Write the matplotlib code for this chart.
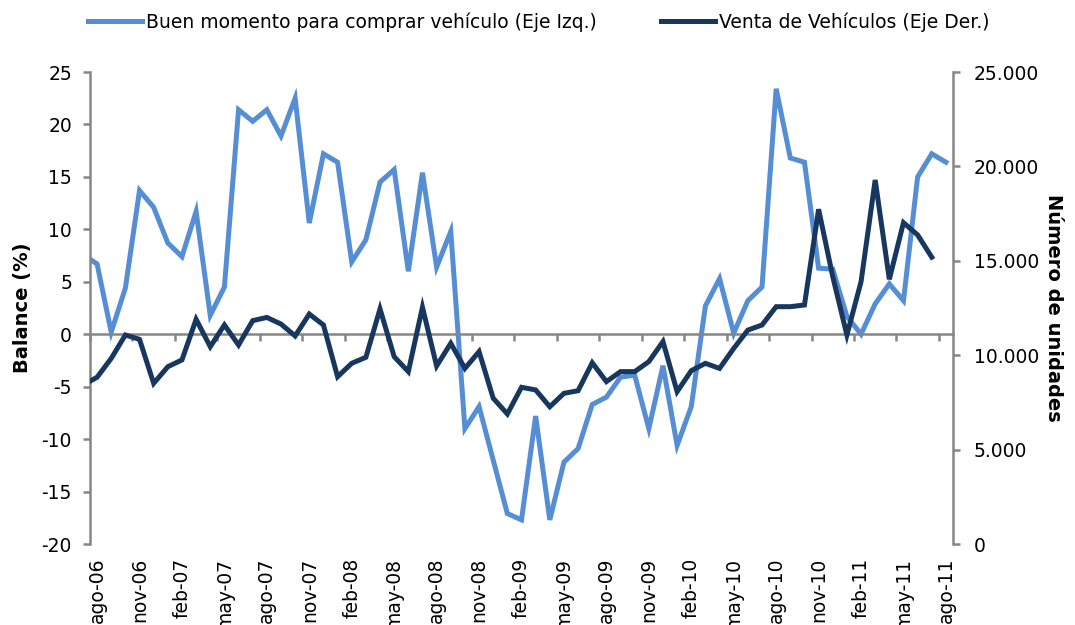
import numpy as np
import matplotlib.pyplot as plt

# monthly data, jul-06 (only partly visible at the left edge) to ago-11
buen_momento = [7.6,
                6.7, 0.2, 4.4, 13.7, 12.1, 8.7, 7.4, 11.7, 1.8, 4.5,
                21.4, 20.3, 21.4, 18.9, 22.5, 10.6, 17.2, 16.4, 6.9, 9.0,
                14.5, 15.7, 6.0, 15.4, 6.4, 9.8, -9.0, -6.9, -12.0, -17.1,
                -17.7, -7.8, -17.7, -12.2, -10.9, -6.7, -6.0, -4.1, -3.9, -9.0,
                -3.0, -10.6, -6.9, 2.7, 5.3, 0.1, 3.2, 4.5, 23.4, 16.8,
                16.4, 6.3, 6.2, 1.7, 0.0, 2.9, 4.8, 3.2, 15.0, 17.2,
                16.4]

venta_vehiculos = [8420,
                   8830, 9830, 11070, 10840, 8510, 9390, 9750, 11900, 10450, 11600,
                   10540, 11830, 12000, 11650, 11020, 12180, 11600, 8860, 9570, 9890,
                   12450, 9920, 9130, 12540, 9430, 10630, 9300, 10190, 7720, 6890,
                   8300, 8160, 7270, 7980, 8120, 9600, 8600, 9130, 9130, 9660,
                   10720, 8070, 9180, 9570, 9300, 10360, 11330, 11600, 12570, 12570,
                   12660, 17730, 14160, 11070, 13890, 19280, 14020, 17020, 16370, 15190]

etiquetas = ['ago-06', 'nov-06', 'feb-07', 'may-07', 'ago-07', 'nov-07', 'feb-08',
             'may-08', 'ago-08', 'nov-08', 'feb-09', 'may-09', 'ago-09', 'nov-09',
             'feb-10', 'may-10', 'ago-10', 'nov-10', 'feb-11', 'may-11', 'ago-11']

c_claro = '#558ED5'
c_oscuro = '#17375E'
c_eje = '#868686'

plt.rcParams['font.family'] = 'DejaVu Sans'
plt.rcParams['font.size'] = 13.5
plt.rcParams['axes.unicode_minus'] = False

fig = plt.figure(figsize=(10.75, 6.25), dpi=100)
ax = fig.add_axes([90/1075, 1-544/625, 863/1075, 472/625])
ax2 = ax.twinx()

x1 = np.arange(len(buen_momento))
x2 = np.arange(len(venta_vehiculos))
l1, = ax.plot(x1, buen_momento, color=c_claro, lw=3.6, solid_joinstyle='miter',
              label='Buen momento para comprar vehículo (Eje Izq.)')
l2, = ax2.plot(x2, venta_vehiculos, color=c_oscuro, lw=3.6, solid_joinstyle='miter',
               label='Venta de Vehículos (Eje Der.)')

ax.set_xlim(0.5, 61.5)
ax.set_ylim(-20, 25)
ax.set_yticks(np.arange(-20, 26, 5))
ax2.set_ylim(0, 25000)
ax2.set_yticks(np.arange(0, 25001, 5000))
ax2.set_yticklabels([f'{v:,}'.replace(',', '.') for v in range(0, 25001, 5000)])

for a in (ax, ax2):
    a.spines['top'].set_visible(False)
    a.spines['bottom'].set_visible(False)
    a.spines['left'].set_color(c_eje)
    a.spines['right'].set_color(c_eje)
    a.spines['left'].set_linewidth(1.8)
    a.spines['right'].set_linewidth(1.8)
ax.spines['right'].set_visible(False)
ax2.spines['left'].set_visible(False)

ax.tick_params(axis='y', length=5, width=1.8, color=c_eje, pad=8)
ax2.tick_params(axis='y', length=5, width=1.8, color=c_eje, pad=10)

# category axis crossing at zero, tick marks between categories
ax.spines['bottom'].set_visible(True)
ax.spines['bottom'].set_position(('data', 0))
ax.spines['bottom'].set_color(c_eje)
ax.spines['bottom'].set_linewidth(1.8)
ax.set_xticks(np.arange(0.5, 62, 3))
ax.tick_params(axis='x', length=5, width=1.8, color=c_eje, labelbottom=False)

sec = ax.secondary_xaxis('bottom')
sec.set_xticks(np.arange(1, 62, 3))
sec.set_xticklabels(etiquetas, rotation=90, va='top', ha='center')
sec.tick_params(axis='x', length=0, pad=10, labelsize=13.5)
sec.spines['bottom'].set_visible(False)

ax.set_ylabel('Balance (%)', fontweight='bold', fontsize=14)
ax.yaxis.set_label_coords(-0.067, 0.5)
ax2.set_ylabel('Número de unidades', fontweight='bold', fontsize=14,
               rotation=270, labelpad=17)

fig.legend(handles=[l1, l2], loc='upper left', bbox_to_anchor=(88/1075, 1-12/625),
           ncol=2, frameon=False, handlelength=2.9, handletextpad=0.2,
           columnspacing=3.4, borderpad=0, borderaxespad=0, fontsize=13.5)

fig.savefig('out.png', dpi=100)
